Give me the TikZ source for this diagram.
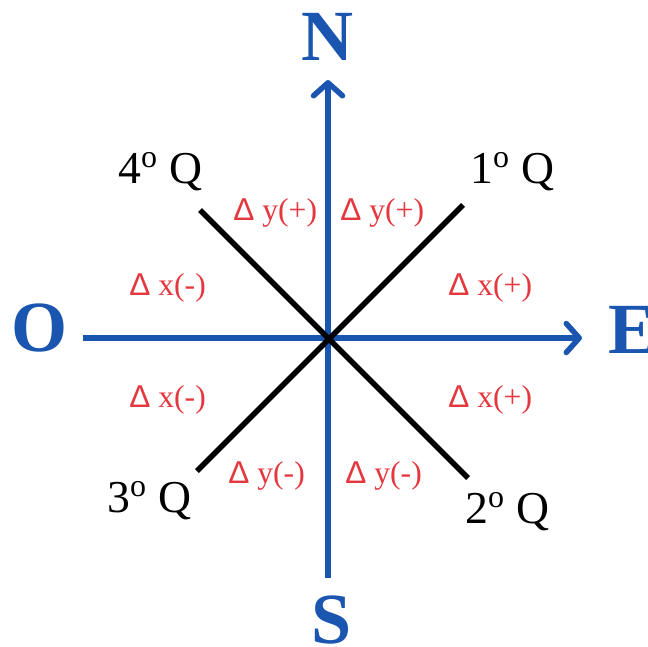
\documentclass[tikz,border=0pt]{standalone}
\usepackage{fontspec}
\setmainfont{Liberation Serif}
\newfontfamily\deltafont{Liberation Sans}
\usetikzlibrary{arrows.meta}
\definecolor{AxisBlue}{HTML}{1A55B0}
\definecolor{DeltaRed}{HTML}{E5373E}
\newcommand{\dlt}{{\deltafont\symbol{"0394}}}
\newcommand{\ordo}{\textsuperscript{o}}

\begin{document}
\begin{tikzpicture}[x=0.02cm, y=-0.02cm, every node/.style={inner sep=0pt, anchor=base west}, axis/.style={line width=0.11cm, color=AxisBlue, -{Straight Barb[length=2.6mm, width=5.8mm, round]}}, quad/.style={line width=0.11cm, color=black}, dir/.style={font=\fontsize{41}{45}\selectfont\bfseries, color=AxisBlue}, qlabel/.style={font=\fontsize{26}{30}\selectfont}, delta/.style={font=\fontsize{18}{21}\selectfont, color=DeltaRed}]
\useasboundingbox (0,0) rectangle (648,646);
% axes
\coordinate (south) at (328,578); \coordinate (north) at (328,80);
\coordinate (west) at (83,338); \coordinate (east) at (582,338);
\draw[axis] (south)--(north); \draw[axis] (west)--(east);
% quadrant lines
\coordinate (q4) at (200,210); \coordinate (q2) at (468,478);
\coordinate (q1) at (463,205); \coordinate (q3) at (197,471);
\draw[quad] (q4)--(q2); \draw[quad] (q1)--(q3);
% cardinal points
\node[dir, anchor=base] (n) at (328,60) {N};
\node[dir, anchor=base] (o) at (40,351) {O};
\node[dir] (e) at (608,353) {E};
\node[dir, anchor=base] (s) at (332,643) {S};
% quadrants
\node[qlabel] (l1) at (470,183) {1\ordo{} Q};
\node[qlabel] (l2) at (465,523) {2\ordo{} Q};
\node[qlabel] (l3) at (107,512) {3\ordo{} Q};
\node[qlabel] (l4) at (118,183) {4\ordo{} Q};
% increments
\node[delta] (dy1) at (233,220) {\dlt{} y(+)};
\node[delta] (dy2) at (340,220) {\dlt{} y(+)};
\node[delta] (dx1) at (129,295) {\dlt{} x(-)};
\node[delta] (dx2) at (448,295) {\dlt{} x(+)};
\node[delta] (dx3) at (129,407) {\dlt{} x(-)};
\node[delta] (dx4) at (448,407) {\dlt{} x(+)};
\node[delta] (dy3) at (228,483) {\dlt{} y(-)};
\node[delta] (dy4) at (345,483) {\dlt{} y(-)};
\end{tikzpicture}
\end{document}
